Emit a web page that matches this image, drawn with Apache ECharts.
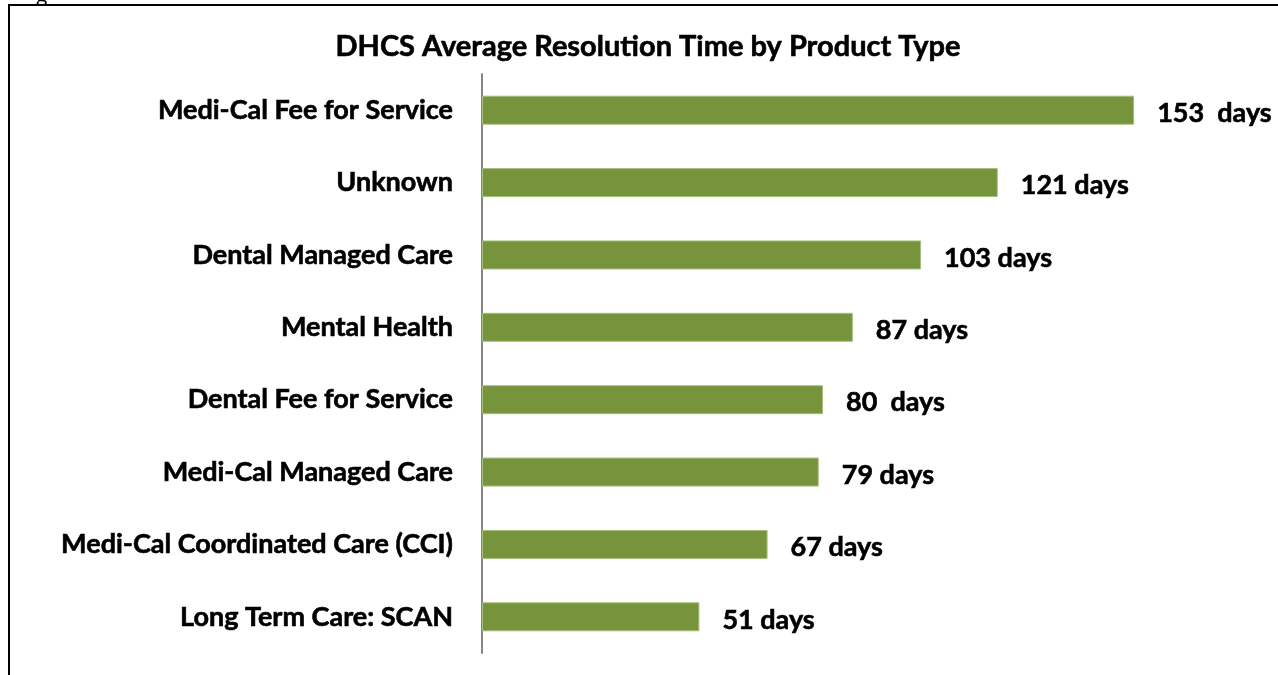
<!DOCTYPE html>
<html>
<head>
<meta charset="utf-8">
<script src="https://cdn.jsdelivr.net/npm/echarts@6/dist/echarts.min.js"></script>
<style>
  html, body { margin: 0; padding: 0; background: #fff; }
  #chart { width: 1278px; height: 675px; }
</style>
</head>
<body>
<div id="chart"></div>
<script>
  var categories = ['Medi-Cal Fee for Service', 'Unknown', 'Dental Managed Care', 'Mental Health',
    'Dental Fee for Service', 'Medi-Cal Managed Care', 'Medi-Cal Coordinated Care (CCI)', 'Long Term Care: SCAN']
  var days = [153, 121, 103, 87, 80, 79, 67, 51]
  var dayLabels = ['153  days', '121 days', '103 days', '87 days', '80  days', '79 days', '67 days', '51 days']

  var font = 'Lato, "Open Sans", sans-serif'
  var chart = echarts.init(document.getElementById('chart'))
  chart.setOption({
    animation: false,
    title: {
      text: 'DHCS Average Resolution Time by Product Type',
      left: 643,
      top: 27,
      textAlign: 'center',
      textStyle: { fontFamily: font, fontSize: 29, fontWeight: 'bold', color: '#000', textBorderColor: '#000', textBorderWidth: 0.6 }
    },
    graphic: [{
      // cut-off caption above the frame
      type: 'text',
      left: 36,
      top: -16,
      style: { text: 'g', font: '22px ' + font, fill: '#000' },
      silent: true
    }, {
      type: 'rect',
      shape: { x: 9, y: 5, width: 1290, height: 700 },
      style: { fill: '#fff', stroke: '#000', lineWidth: 2 },
      z: -10,
      silent: true
    }],
    grid: { left: 482, right: 114, top: 74, bottom: 22 },
    xAxis: {
      type: 'value',
      min: 0,
      max: 160,
      show: false
    },
    yAxis: {
      type: 'category',
      data: categories,
      inverse: true,
      axisLine: { show: true, lineStyle: { color: '#868686', width: 2 } },
      axisTick: { show: false },
      axisLabel: {
        margin: 29,
        color: '#000',
        fontFamily: font,
        fontSize: 27,
        fontWeight: 'bold',
        textBorderColor: '#000',
        textBorderWidth: 0.6
      }
    },
    series: [{
      type: 'bar',
      data: days,
      barWidth: 29,
      itemStyle: { color: '#77933C', borderColor: '#A5BF7A', borderWidth: 1 },
      label: {
        show: true,
        position: 'right',
        distance: 23,
        offset: [0, 3],
        formatter: function (p) { return dayLabels[p.dataIndex] },
        color: '#000',
        fontFamily: font,
        fontSize: 27,
        fontWeight: 'bold',
        textBorderColor: '#000',
        textBorderWidth: 0.6
      }
    }]
  })
</script>
</body>
</html>
